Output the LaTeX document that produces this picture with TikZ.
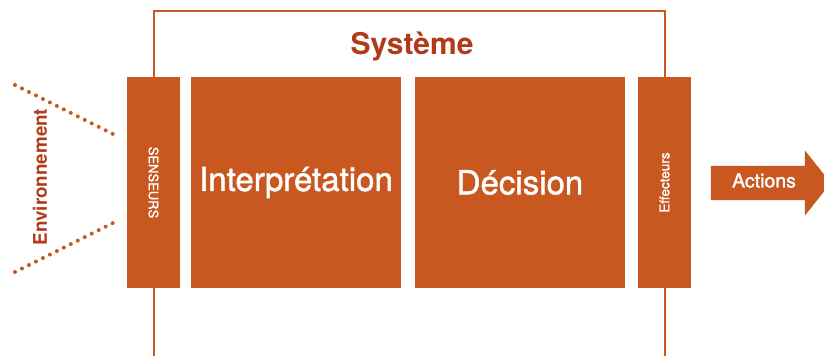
\documentclass[tikz,border=0pt]{standalone}
\usepackage{fontspec}
\setmainfont{TeX Gyre Heros}
\newfontfamily\medfont[FakeBold=1.4]{TeX Gyre Heros}
\usetikzlibrary{positioning,shapes.arrows}
\definecolor{rust}{RGB}{200,88,32}
\definecolor{darkrust}{RGB}{176,58,26}

\begin{document}
\begin{tikzpicture}[x=1pt, y=1pt,
    block/.style={fill=rust, draw=none, text=white, inner sep=0pt},
    slim/.style={block, minimum width=211pt, minimum height=53pt},
    wide/.style={block, minimum width=210pt, minimum height=211pt, font=\medfont\fontsize{33}{39}\selectfont},
    frame/.style={draw=rust, line width=2pt},
    dots/.style={rust, line width=4pt, line cap=round, dash pattern=on 0pt off 7.8pt}]
    \useasboundingbox (0,0) rectangle (824,356);

    \node[slim, rotate=-90, font=\medfont\fontsize{13}{15}\selectfont] (sens) at (153.5,173.5) {SENSEURS};
    \node[wide] (interp) at (296,173.5) {Interprétation};
    \node[wide] (dec) at (520,173.5) {Décision};
    \node[slim, rotate=90, font=\medfont\fontsize{13.5}{16}\selectfont] (eff) at (664.5,173.5) {Effecteurs};

    \node[text=darkrust, font=\fontsize{30}{36}\selectfont\bfseries] (sys) at (412,309) {Système};
    \node[text=darkrust, rotate=90, font=\fontsize{18.8}{22}\selectfont\bfseries] (env) at (40,179) {Environnement};

    % the frame round the system
    \coordinate (tl) at (153.5,345);
    \coordinate (tr) at (664.5,345);
    \coordinate (bl) at (153.5,0);
    \coordinate (br) at (664.5,0);
    \draw[frame] (sens.west) -- (tl) -- (tr) -- (eff.east);
    \draw[frame] (sens.east) -- (bl);
    \draw[frame] (eff.west) -- (br);

    % dotted view of the environment
    \coordinate (e1) at (15,271);
    \coordinate (e2) at (115,221);
    \coordinate (e3) at (15,84);
    \coordinate (e4) at (115,134);
    \draw[dots] (e1) -- (e2);
    \draw[dots] (e3) -- (e4);

    % output arrow
    \node[single arrow, fill=rust, text=white, font=\medfont\fontsize{19.5}{23}\selectfont,
          text height=13pt, text depth=4pt, inner xsep=0pt, inner ysep=8.5pt,
          minimum height=120pt, minimum width=65pt, single arrow head extend=15.5pt,
          single arrow tip angle=103] (act) at (764,173) {Actions};
\end{tikzpicture}
\end{document}
